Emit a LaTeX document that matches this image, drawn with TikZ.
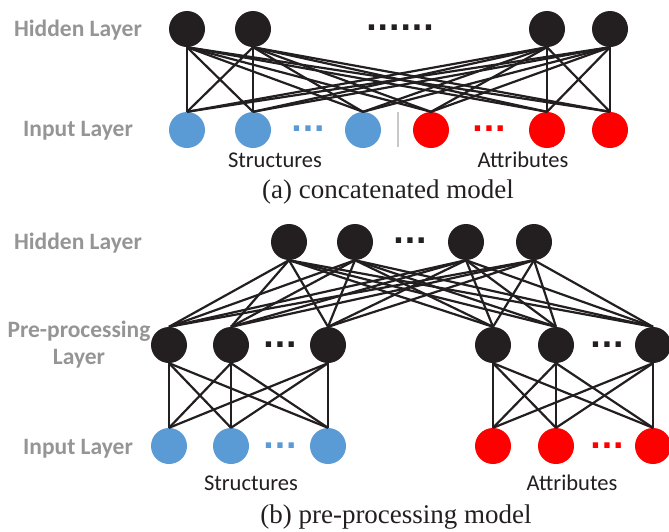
\documentclass[tikz,border=0pt]{standalone}
\usepackage{fontspec}
\setmainfont{Liberation Serif}
\newfontfamily\calibri{Carlito}
\newfontfamily\dotfont{DejaVu Sans}
\definecolor{nblack}{HTML}{231F20}
\definecolor{nblue}{HTML}{5B9BD5}
\definecolor{nred}{HTML}{FF0000}
\definecolor{labgray}{HTML}{959595}
\definecolor{sepgray}{HTML}{C8C8C8}
\begin{document}
\begin{tikzpicture}[x=1pt,y=-1pt,
  neuron/.style={circle,minimum size=36pt,inner sep=0pt,fill=nblack},
  bneuron/.style={neuron,fill=nblue},
  rneuron/.style={neuron,fill=nred},
  edge/.style={draw=nblack,line width=2.2pt},
  lbl/.style={font=\calibri\bfseries\fontsize{23.5}{27}\selectfont,text=labgray,align=center},
  grp/.style={font=\calibri\fontsize{22.5}{26}\selectfont,text=nblack},
  captxt/.style={font=\fontsize{27}{31}\selectfont,text=nblack},
  dotstxt/.style={font=\dotfont\bfseries\fontsize{30}{30}\selectfont,inner sep=0pt},
  sepline/.style={draw=sepgray,line width=1.5pt}]
\useasboundingbox (0,0) rectangle (669,531);
% ---------- (a) ----------
\node[lbl] (la1) at (78,30) {Hidden Layer};
\node[lbl] (la2) at (78,131) {Input Layer};
\node[neuron] (ha1) at (187,29) {};
\node[neuron] (ha2) at (253,29) {};
\node[neuron] (ha3) at (547,29) {};
\node[neuron] (ha4) at (610,29) {};
\node[dotstxt,text=nblack] (da0) at (400,28) {......};
\node[bneuron] (ia1) at (187,130) {};
\node[bneuron] (ia2) at (253,130) {};
\node[dotstxt,text=nblue] (da1) at (308,129) {...};
\node[bneuron] (ia3) at (363,130) {};
\coordinate (sa1) at (398,112);
\coordinate (sa2) at (398,147);
\draw[sepline] (sa1) -- (sa2);
\node[rneuron] (ia4) at (431,130) {};
\node[dotstxt,text=nred] (da2) at (489,129) {...};
\node[rneuron] (ia5) at (547,130) {};
\node[rneuron] (ia6) at (610,130) {};
\foreach \h in {ha1,ha2,ha3,ha4}
  \foreach \i in {ia1,ia2,ia3,ia4,ia5,ia6}
    \draw[edge] (\h.south) -- (\i.north);
\node[grp] (ga1) at (275,160) {Structures};
\node[grp] (ga2) at (523,160) {Attributes};
\node[captxt] (ca) at (388,192) {(a) concatenated model};
% ---------- (b) ----------
\node[lbl] (lb1) at (78,243) {Hidden Layer};
\node[lbl] (lb2) at (79,345) {Pre-processing\\Layer};
\node[lbl] (lb3) at (78,449) {Input Layer};
\node[neuron] (hb1) at (289,242) {};
\node[neuron] (hb2) at (355,242) {};
\node[dotstxt,text=nblack] (db0) at (410,241) {...};
\node[neuron] (hb3) at (466,242) {};
\node[neuron] (hb4) at (534,242) {};
\node[neuron] (pb1) at (169,345) {};
\node[neuron] (pb2) at (231,345) {};
\node[dotstxt,text=nblack] (db1) at (280,345) {...};
\node[neuron] (pb3) at (328,345) {};
\node[neuron] (pb4) at (493,345) {};
\node[neuron] (pb5) at (556,345) {};
\node[dotstxt,text=nblack] (db2) at (607,345) {...};
\node[neuron] (pb6) at (653,345) {};
\node[bneuron] (ib1) at (169,446) {};
\node[bneuron] (ib2) at (231,446) {};
\node[dotstxt,text=nblue] (db3) at (280,446) {...};
\node[bneuron] (ib3) at (328,446) {};
\node[rneuron] (ib4) at (493,446) {};
\node[rneuron] (ib5) at (556,446) {};
\node[dotstxt,text=nred] (db4) at (607,446) {...};
\node[rneuron] (ib6) at (653,446) {};
\foreach \h in {hb1,hb2,hb3,hb4}
  \foreach \p in {pb1,pb2,pb3,pb4,pb5,pb6}
    \draw[edge] (\h.south) -- (\p.north);
\foreach \p in {pb1,pb2,pb3}
  \foreach \i in {ib1,ib2,ib3}
    \draw[edge] (\p.south) -- (\i.north);
\foreach \p in {pb4,pb5,pb6}
  \foreach \i in {ib4,ib5,ib6}
    \draw[edge] (\p.south) -- (\i.north);
\node[grp] (gb1) at (251,483) {Structures};
\node[grp] (gb2) at (572,483) {Attributes};
\node[captxt] (cb) at (396,517) {(b) pre-processing model};
\end{tikzpicture}
\end{document}
